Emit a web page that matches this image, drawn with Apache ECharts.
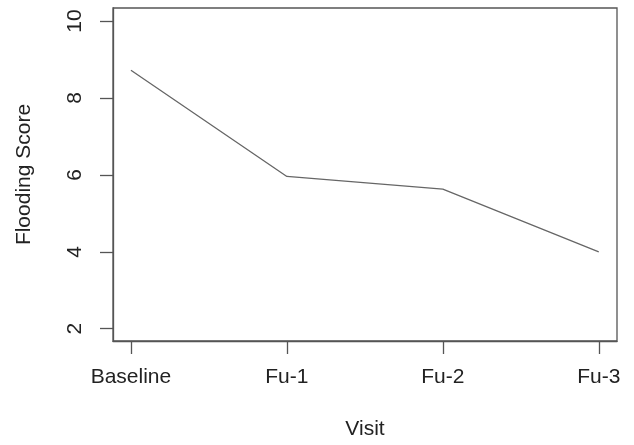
<!DOCTYPE html>
<html>
<head>
<meta charset="utf-8">
<script src="https://cdn.jsdelivr.net/npm/echarts@6/dist/echarts.min.js"></script>
<style>
  html, body { margin: 0; padding: 0; background: #fff; }
  #chart { width: 634px; height: 445px; }
</style>
</head>
<body>
<div id="chart"></div>
<script>
// visits on the x axis, mean flooding score on the y axis
const visits = ['Baseline', 'Fu-1', 'Fu-2', 'Fu-3']
const floodingScore = [8.72, 5.96, 5.63, 4.0]
const yTicks = [2, 4, 6, 8, 10]

const font = '"Liberation Sans", Arial, sans-serif'
const axisColor = '#555'

const chart = echarts.init(document.getElementById('chart'), null, { renderer: 'canvas' })

const option = {
  animation: false,
  grid: {
    left: 113,
    right: 17,
    top: 8,
    bottom: 103,
    show: true,
    borderColor: axisColor,
    borderWidth: 1.3,
    backgroundColor: 'transparent'
  },
  xAxis: {
    type: 'value',
    min: -0.115,
    max: 3.117,
    name: 'Visit',
    nameLocation: 'middle',
    nameGap: 78,
    nameTextStyle: { fontFamily: font, fontSize: 21, color: '#222' },
    axisLine: { show: true, onZero: false, lineStyle: { color: axisColor, width: 1.3 } },
    splitLine: { show: false },
    axisTick: {
      show: true,
      inside: false,
      length: 13,
      customValues: visits.map((v, i) => i),
      lineStyle: { color: axisColor, width: 1.3 }
    },
    axisLabel: {
      margin: 26,
      fontFamily: font,
      fontSize: 21,
      color: '#222',
      customValues: visits.map((v, i) => i),
      formatter: v => visits[Math.round(v)]
    }
  },
  yAxis: {
    type: 'value',
    min: 1.68,
    max: 10.34,
    name: 'Flooding Score',
    nameLocation: 'middle',
    nameRotate: 90,
    nameGap: 78,
    nameTextStyle: { fontFamily: font, fontSize: 21, color: '#222' },
    axisLine: { show: true, onZero: false, lineStyle: { color: axisColor, width: 1.3 } },
    splitLine: { show: false },
    axisTick: {
      show: true,
      inside: false,
      length: 13,
      customValues: yTicks,
      lineStyle: { color: axisColor, width: 1.3 }
    },
    axisLabel: {
      rotate: 90,
      margin: 27,
      fontFamily: font,
      fontSize: 21,
      color: '#222',
      customValues: yTicks
    }
  },
  series: [
    {
      type: 'line',
      data: floodingScore.map((v, i) => [i, v]),
      showSymbol: false,
      lineStyle: { color: '#666', width: 1.3 }
    }
  ]
}

chart.setOption(option)
</script>
</body>
</html>
